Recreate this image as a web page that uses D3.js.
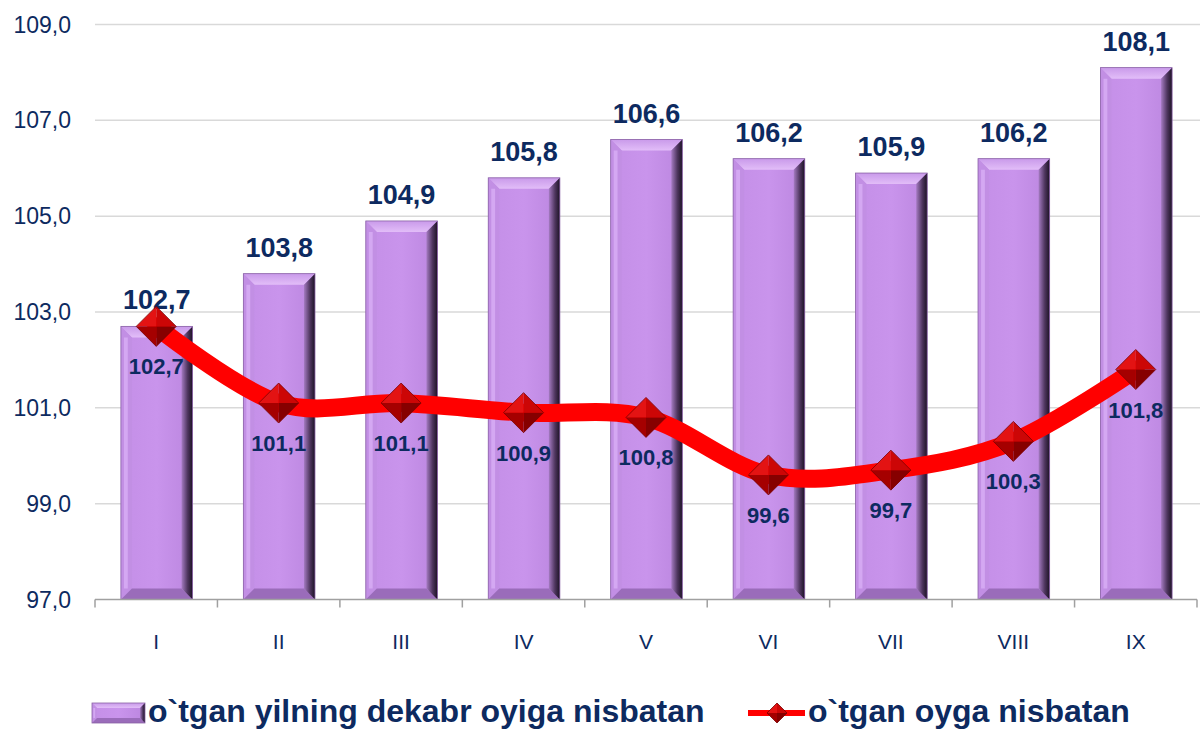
<!DOCTYPE html>
<html>
<head>
<meta charset="utf-8">
<script src="https://cdn.jsdelivr.net/npm/d3@7"></script>
<style>
  body { margin: 0; background: #ffffff; }
  svg { display: block; font-family: "Liberation Sans", Arial, sans-serif; }
</style>
</head>
<body>
<svg id="myCanvas" width="1203" height="729"></svg>
<script>
/*** Narxlar indeksi ***/

let months = ['I', 'II', 'III', 'IV', 'V', 'VI', 'VII', 'VIII', 'IX'];
let decemberValues = [102.7, 103.8, 104.9, 105.8, 106.6, 106.2, 105.9, 106.2, 108.1];
let monthValues = [102.7, 101.1, 101.1, 100.9, 100.8, 99.6, 99.7, 100.3, 101.8];
let yTicks = [97, 99, 101, 103, 105, 107, 109];
let seriesNames = ['o`tgan yilning dekabr oyiga nisbatan', 'o`tgan oyga nisbatan'];

let textColor = '#0d2a60';
let fmt = (v) => v.toFixed(1).replace('.', ',');

let canvas = d3.select('#myCanvas');

let xScale = d3.scaleBand()
               .domain(months)
               .range([95, 1197])
               .padding(0);

let yScale = d3.scaleLinear()
               .domain([97, 109])
               .range([599.5, 24.5]);

let barWidth = xScale.bandwidth() * 0.585;
let bevel = 11;

// gradients for the 3d bars
let defs = canvas.append('defs');
let rightGrad = defs.append('linearGradient').attr('id', 'rightEdge')
                    .attr('x1', 0).attr('x2', 1).attr('y1', 0).attr('y2', 0);
rightGrad.append('stop').attr('offset', '0%').attr('stop-color', '#a57bc2');
rightGrad.append('stop').attr('offset', '55%').attr('stop-color', '#4f365f');
rightGrad.append('stop').attr('offset', '100%').attr('stop-color', '#1c1224');

let faceGrad = defs.append('linearGradient').attr('id', 'barFace')
                   .attr('x1', 0).attr('x2', 1).attr('y1', 0).attr('y2', 0);
faceGrad.append('stop').attr('offset', '0%').attr('stop-color', '#c48fe7');
faceGrad.append('stop').attr('offset', '50%').attr('stop-color', '#c994ec');
faceGrad.append('stop').attr('offset', '100%').attr('stop-color', '#bb86df');

let topGrad = defs.append('linearGradient').attr('id', 'topEdge')
                  .attr('x1', 0).attr('x2', 0).attr('y1', 0).attr('y2', 1);
topGrad.append('stop').attr('offset', '0%').attr('stop-color', '#c99aea');
topGrad.append('stop').attr('offset', '100%').attr('stop-color', '#e2bdf8');

// gridlines
canvas.append('g')
  .selectAll('line')
  .data(yTicks.slice(1))
  .enter()
  .append('line')
  .attr('x1', 95)
  .attr('x2', 1200)
  .attr('y1', (d) => yScale(d))
  .attr('y2', (d) => yScale(d))
  .attr('stroke', '#d9d9d9')
  .attr('stroke-width', 1.5);

// y tick labels
canvas.append('g')
  .selectAll('text')
  .data(yTicks)
  .enter()
  .append('text')
  .attr('x', 71)
  .attr('y', (d) => yScale(d) + 8)
  .attr('text-anchor', 'end')
  .attr('font-size', 23)
  .attr('fill', textColor)
  .text((d) => fmt(d));

// bars
let drawBar = (g, x, y, w, h, b) => {
  g.append('rect')
   .attr('x', x).attr('y', y).attr('width', w).attr('height', h)
   .attr('fill', 'url(#barFace)');
  // top bevel
  g.append('polygon')
   .attr('points', [[x, y], [x + w, y], [x + w - b, y + b], [x + b, y + b]].join(' '))
   .attr('fill', 'url(#topEdge)');
  // left bevel
  g.append('polygon')
   .attr('points', [[x, y], [x + b, y + b], [x + b, y + h - b], [x, y + h]].join(' '))
   .attr('fill', '#c28fe4');
  g.append('line')
   .attr('x1', x + b * 0.45).attr('x2', x + b * 0.45)
   .attr('y1', y + b).attr('y2', y + h - b)
   .attr('stroke', '#d4a8f2').attr('stroke-width', b * 0.35);
  // bottom bevel
  g.append('polygon')
   .attr('points', [[x, y + h], [x + b, y + h - b], [x + w - b, y + h - b], [x + w, y + h]].join(' '))
   .attr('fill', '#9a6cba');
  // right bevel
  g.append('polygon')
   .attr('points', [[x + w, y], [x + w, y + h], [x + w - b, y + h - b], [x + w - b, y + b]].join(' '))
   .attr('fill', 'url(#rightEdge)');
  g.append('rect')
   .attr('x', x).attr('y', y).attr('width', w).attr('height', h)
   .attr('fill', 'none')
   .attr('stroke', '#8a62a6')
   .attr('stroke-width', 0.8);
};

let bars = canvas.append('g')
  .selectAll('g')
  .data(decemberValues)
  .enter()
  .append('g');

bars.each(function (d, i) {
  let x = xScale(months[i]) + (xScale.bandwidth() - barWidth) / 2 + 0.5;
  let y = yScale(d);
  drawBar(d3.select(this), x, y, barWidth, yScale(97) - y, bevel);
});

// x axis line + ticks
let axis = canvas.append('g');
axis.append('line')
  .attr('x1', 95).attr('x2', 1197)
  .attr('y1', yScale(97)).attr('y2', yScale(97))
  .attr('stroke', '#a0a0a0').attr('stroke-width', 1.5);

axis.selectAll('.tick')
  .data(months.concat(['end']))
  .enter()
  .append('line')
  .attr('class', 'tick')
  .attr('x1', (d, i) => 95 + i * xScale.bandwidth())
  .attr('x2', (d, i) => 95 + i * xScale.bandwidth())
  .attr('y1', yScale(97))
  .attr('y2', yScale(97) + 8)
  .attr('stroke', '#a0a0a0').attr('stroke-width', 1.5);

axis.selectAll('.xlabel')
  .data(months)
  .enter()
  .append('text')
  .attr('class', 'xlabel')
  .attr('x', (d) => xScale(d) + xScale.bandwidth() / 2)
  .attr('y', 649)
  .attr('text-anchor', 'middle')
  .attr('font-size', 21)
  .attr('fill', textColor)
  .text((d) => d);

// bar labels
canvas.append('g')
  .selectAll('text')
  .data(decemberValues)
  .enter()
  .append('text')
  .attr('x', (d, i) => xScale(months[i]) + xScale.bandwidth() / 2 + 0.5)
  .attr('y', (d) => yScale(d) - 17)
  .attr('text-anchor', 'middle')
  .attr('font-size', 27)
  .attr('font-weight', 'bold')
  .attr('fill', textColor)
  .text((d) => fmt(d));

// smoothed line
let linePoints = monthValues.map((v, i) => [xScale(months[i]) + xScale.bandwidth() / 2, yScale(v)]);

let line = d3.line().curve(d3.curveCatmullRom.alpha(0));

canvas.append('path')
  .attr('d', line(linePoints))
  .attr('fill', 'none')
  .attr('stroke', '#ff0000')
  .attr('stroke-width', 18)
  .attr('stroke-linecap', 'round');

let drawDiamond = (g, cx, cy, r) => {
  let top = [cx, cy - r], right = [cx + r, cy], bottom = [cx, cy + r], left = [cx - r, cy];
  let c = [cx, cy];
  let faces = [
    [[left, top, c], '#e31313'],
    [[top, right, c], '#cc0606'],
    [[left, bottom, c], '#a50000'],
    [[right, bottom, c], '#860000']
  ];
  faces.forEach((f) => {
    g.append('polygon')
     .attr('points', f[0].join(' '))
     .attr('fill', f[1]);
  });
  g.append('polygon')
   .attr('points', [top, right, bottom, left].join(' '))
   .attr('fill', 'none')
   .attr('stroke', '#7a0000')
   .attr('stroke-width', 0.8);
};

let markers = canvas.append('g');
linePoints.forEach((p) => drawDiamond(markers, p[0], p[1], 20));

// line labels
canvas.append('g')
  .selectAll('text')
  .data(monthValues)
  .enter()
  .append('text')
  .attr('x', (d, i) => linePoints[i][0])
  .attr('y', (d, i) => linePoints[i][1] + 48)
  .attr('text-anchor', 'middle')
  .attr('font-size', 22)
  .attr('font-weight', 'bold')
  .attr('fill', textColor)
  .text((d) => fmt(d));

// legend
let legend = canvas.append('g');
drawBar(legend.append('g'), 92, 703, 53, 20, 5);
legend.append('text')
  .attr('x', 148).attr('y', 722)
  .attr('font-size', 32).attr('font-weight', 'bold')
  .attr('fill', textColor)
  .text(seriesNames[0]);

legend.append('line')
  .attr('x1', 748).attr('x2', 805)
  .attr('y1', 713).attr('y2', 713)
  .attr('stroke', '#ff0000').attr('stroke-width', 6);
drawDiamond(legend, 777, 713, 10);
legend.append('text')
  .attr('x', 808).attr('y', 722)
  .attr('font-size', 32).attr('font-weight', 'bold')
  .attr('fill', textColor)
  .text(seriesNames[1]);
</script>
</body>
</html>
